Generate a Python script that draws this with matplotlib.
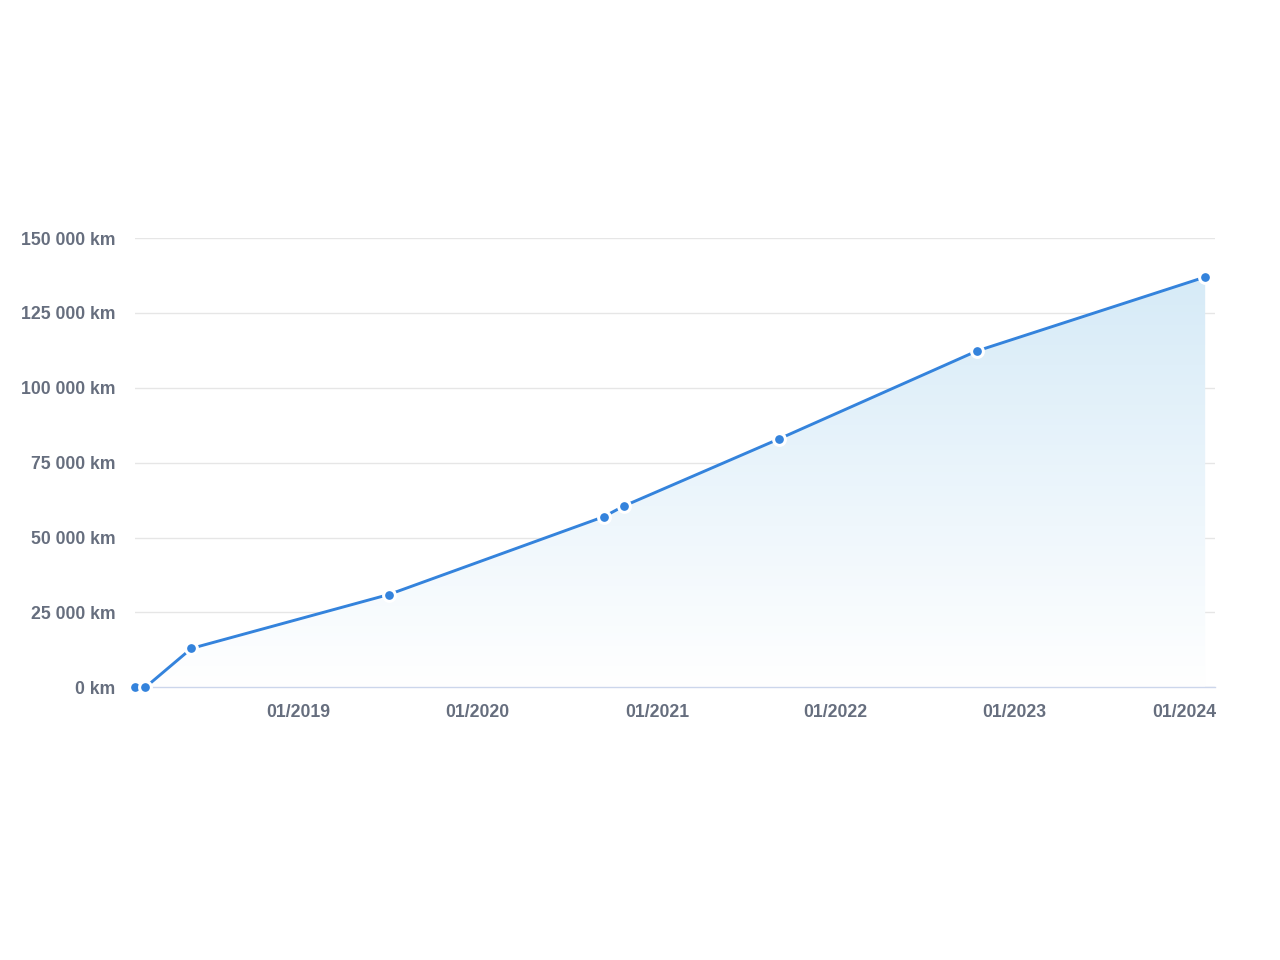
import numpy as np
import matplotlib
matplotlib.use('Agg')
import matplotlib.pyplot as plt
import matplotlib.dates as mdates
import matplotlib.transforms as mtransforms
from matplotlib.patches import Polygon
import datetime as dt

# mileage readings
dates = ['2018-02-01', '2018-02-22', '2018-05-27', '2019-07-04', '2020-09-15',
         '2020-10-25', '2021-09-08', '2022-10-16', '2024-01-25']
km = [0, 0, 13000, 31000, 57000, 60500, 83000, 112300, 137000]
yticks = [0, 25000, 50000, 75000, 100000, 125000, 150000]
xtick_years = [2019, 2020, 2021, 2022, 2023, 2024]

plt.rcParams['font.family'] = ['Liberation Sans', 'DejaVu Sans']

x = [mdates.date2num(dt.datetime.strptime(d, '%Y-%m-%d')) for d in dates]
y = km

fig = plt.figure(figsize=(12.8, 9.6), dpi=100)
ax = fig.add_axes([0.1055, 0.284, 0.8437, 0.468])

x0 = mdates.date2num(dt.datetime(2018, 2, 1))
x1 = mdates.date2num(dt.datetime(2024, 2, 14))
ax.set_xlim(x0, x1)
ax.set_ylim(0, 150000)

# gradient fill under the line (light blue at top fading to white)
poly = Polygon(list(zip(x, y)) + [(x[-1], 0), (x[0], 0)], closed=True,
               facecolor='none', edgecolor='none')
ax.add_patch(poly)
t = np.linspace(0, 1, 256).reshape(-1, 1)
top = np.array([0.84, 0.92, 0.97])
rgba = np.ones((256, 1, 4))
for i in range(3):
    rgba[..., i] = 1 - (1 - top[i]) * t
rgba[..., 3] = 1.0
im = ax.imshow(rgba, extent=[x0, x1, 0, max(y)], origin='lower', aspect='auto',
               zorder=1, interpolation='bilinear')
im.set_clip_path(poly)

ax.plot(x, y, color='#3483dc', lw=2.1, zorder=3, solid_capstyle='round')
ax.plot(x, y, 'o', ms=8.5, color='#3483dc', mec='white', mew=2.2, zorder=4,
        clip_on=False)

# grid and axes
ax.set_yticks(yticks)
ax.set_yticklabels(['{:,} km'.format(v).replace(',', ' ') for v in yticks])
ax.grid(axis='y', color='#e6e6e6', lw=1)
ax.set_axisbelow(True)
for s in ['top', 'right', 'left']:
    ax.spines[s].set_visible(False)
ax.spines['bottom'].set_color('#ccd6eb')
ax.spines['bottom'].set_linewidth(1)

xt = [mdates.date2num(dt.datetime(yr, 1, 1)) for yr in xtick_years]
ax.set_xticks(xt)
ax.set_xticklabels(['01/%d' % yr for yr in xtick_years])
ax.tick_params(axis='both', length=0, labelsize=12.7, labelcolor='#666e7e')
ax.tick_params(axis='x', pad=12)
ax.tick_params(axis='y', pad=14)
for lab in ax.get_xticklabels() + ax.get_yticklabels():
    lab.set_fontweight('bold')

# last label pushed inside the plot edge
last = ax.get_xticklabels()[-1]
last.set_transform(last.get_transform() + mtransforms.ScaledTranslation(-9 / 100, 0, fig.dpi_scale_trans))

fig.savefig('out.png', dpi=100, facecolor='white')
